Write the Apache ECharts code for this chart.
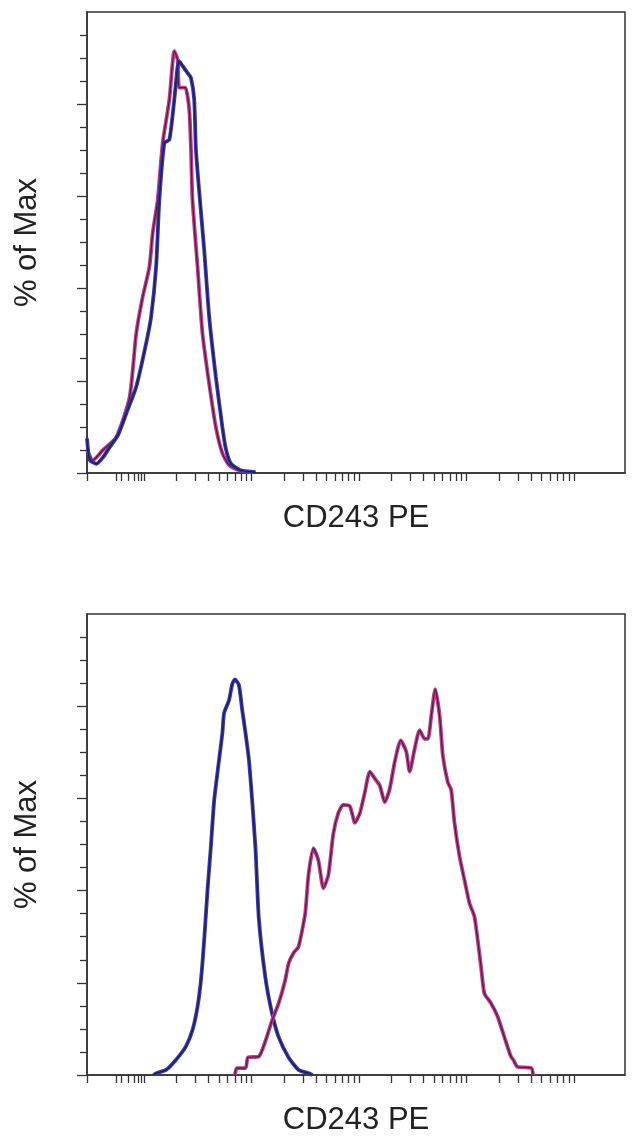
<!DOCTYPE html>
<html>
<head>
<meta charset="utf-8">
<script src="https://cdn.jsdelivr.net/npm/echarts@6/dist/echarts.min.js"></script>
<style>
html,body{margin:0;padding:0;background:#fff;}
#c{width:635px;height:1141px;}
</style>
</head>
<body>
<div id="c"></div>
<script>
// x values are log10(CD243 PE intensity); y values are % of Max
const xAxisTitle = "CD243 PE";
const yAxisTitle = "% of Max";

// Top panel
const topBlue = [[0.47,7.5],[0.496,2.8],[0.558,2.0],[0.619,3.4],[0.681,5.6],[0.758,8.2],[0.835,12.9],[0.928,18.7],[1.02,28.1],[1.067,34.0],[1.113,44.8],[1.143,59.3],[1.19,71.6],[1.236,72.3],[1.282,81.0],[1.313,88.3],[1.328,89.3],[1.359,88.3],[1.405,86.8],[1.437,85.7],[1.467,81.0],[1.483,70.2],[1.52,59.3],[1.56,48.4],[1.606,34.0],[1.668,20.9],[1.729,10.0],[1.761,5.3],[1.807,2.1],[1.899,0.6],[2.038,0.2]];
const topMagenta = [[0.47,5.0],[0.526,2.8],[0.619,5.0],[0.743,7.8],[0.866,16.4],[0.928,30.3],[0.989,38.3],[1.051,44.8],[1.081,52.1],[1.128,59.3],[1.174,71.6],[1.236,81.0],[1.282,91.5],[1.313,89.7],[1.328,83.6],[1.384,83.6],[1.421,78.8],[1.437,70.2],[1.451,59.3],[1.498,44.8],[1.544,30.3],[1.606,19.4],[1.668,10.0],[1.729,4.3],[1.791,1.7],[1.883,0.6],[2.006,0.2]];

// Bottom panel
const bottomBlue = [[1.09,0],[1.113,0.4],[1.205,1.1],[1.298,3.3],[1.39,6.2],[1.452,9.8],[1.498,14.8],[1.53,20.6],[1.56,29.3],[1.591,40.1],[1.622,49.5],[1.653,59.6],[1.698,68.3],[1.729,74.1],[1.745,78.5],[1.791,81.3],[1.822,84.9],[1.846,85.8],[1.883,84.6],[1.914,79.1],[1.945,74.1],[1.976,68.3],[2.006,59.6],[2.038,48.8],[2.068,34.0],[2.13,21.0],[2.191,13.4],[2.253,8.2],[2.345,3.8],[2.439,1.1],[2.53,0.4],[2.568,0]];
const bottomMagenta = [[1.846,0],[1.863,1.5],[1.945,1.5],[1.967,3.8],[2.068,4.0],[2.13,7.4],[2.191,11.8],[2.253,15.6],[2.314,20.6],[2.345,24.2],[2.392,26.5],[2.437,27.8],[2.499,35.0],[2.53,43.4],[2.576,49.2],[2.622,46.6],[2.669,40.5],[2.715,43.4],[2.761,52.3],[2.807,56.8],[2.853,58.6],[2.915,58.3],[2.962,54.7],[3.008,56.8],[3.054,61.3],[3.101,65.8],[3.147,64.3],[3.193,62.8],[3.24,59.2],[3.286,62.1],[3.332,67.9],[3.388,72.6],[3.44,70.1],[3.471,65.8],[3.518,70.8],[3.564,74.8],[3.611,72.9],[3.641,72.9],[3.672,77.9],[3.709,83.7],[3.75,77.9],[3.78,69.2],[3.827,63.4],[3.857,61.9],[3.888,54.7],[3.935,47.4],[3.981,42.3],[4.027,37.3],[4.073,34.4],[4.104,29.3],[4.135,23.5],[4.166,17.7],[4.227,15.6],[4.289,12.7],[4.351,8.3],[4.413,4.0],[4.438,3.2],[4.472,1.8],[4.603,1.5],[4.619,0]];

// Axis ranges and tick positions (log10 units)
const xMin = 0.47, xMax = 5.474;
const compressedTicks = [0.47, 0.74, 0.793, 0.854, 0.907, 0.947, 0.972];
const decades = [1, 2, 3, 4];
const multipliers = [1, 2, 3, 4, 5, 6, 7, 8, 9];
const xTicks = compressedTicks.slice();
decades.forEach(d => multipliers.forEach(m => xTicks.push(d + Math.log10(m))));
xTicks.push(5);
const yMajorTicks = [0, 20, 40, 60, 80];

const BLUE = '#3636b4', MAGENTA = '#c23a8c', INK = '#141414';
const FONT = 'Liberation Sans, Arial, Helvetica, sans-serif';

const grids = [
  {left: 87, top: 12, width: 538, height: 461},
  {left: 87, top: 614, width: 538, height: 461}
];

function xAx(i) {
  return {
    type: 'value', gridIndex: i, min: xMin, max: xMax,
    name: xAxisTitle, nameLocation: 'middle', nameGap: 30,
    nameTextStyle: {fontSize: 31, color: '#222', fontFamily: FONT},
    axisLine: {show: true, lineStyle: {color: '#333', width: 1.5}},
    axisTick: {show: true, customValues: xTicks, length: 8, lineStyle: {color: '#333', width: 1.3}},
    axisLabel: {show: false},
    splitLine: {show: false}
  };
}
function yAx(i) {
  return {
    type: 'value', gridIndex: i, min: 0, max: 100, interval: 20,
    name: yAxisTitle, nameLocation: 'middle', nameGap: 44,
    nameTextStyle: {fontSize: 31, color: '#222', fontFamily: FONT},
    axisLine: {show: true, lineStyle: {color: '#333', width: 1.5}},
    axisTick: {show: true, customValues: yMajorTicks, length: 10, lineStyle: {color: '#333', width: 1.3}},
    minorTick: {show: true, splitNumber: 4, length: 7, lineStyle: {color: '#333', width: 1.3}},
    axisLabel: {show: false},
    splitLine: {show: false},
    minorSplitLine: {show: false}
  };
}
function line(data, i, color, width, z, opacity) {
  return {
    type: 'line', xAxisIndex: i, yAxisIndex: i, data: data,
    showSymbol: false, smooth: 0.2, z: z, silent: true,
    lineStyle: {color: color, width: width, opacity: opacity}
  };
}

const chart = echarts.init(document.getElementById('c'), null, {renderer: 'canvas'});
chart.setOption({
  backgroundColor: '#fff',
  animation: false,
  grid: grids.map(g => Object.assign({show: true, borderColor: '#333', borderWidth: 1.5, backgroundColor: 'transparent'}, g)),
  xAxis: [xAx(0), xAx(1)],
  yAxis: [yAx(0), yAx(1)],
  series: [
    line(topMagenta, 0, MAGENTA, 3.8, 2, 1),
    line(topMagenta, 0, INK, 1.2, 3, 0.7),
    line(topBlue, 0, BLUE, 3.8, 4, 1),
    line(topBlue, 0, INK, 1.2, 5, 0.7),
    line(bottomBlue, 1, BLUE, 3.8, 2, 1),
    line(bottomBlue, 1, INK, 1.2, 3, 0.7),
    line(bottomMagenta, 1, MAGENTA, 3.8, 4, 1),
    line(bottomMagenta, 1, INK, 1.2, 5, 0.7)
  ]
});
</script>
</body>
</html>
